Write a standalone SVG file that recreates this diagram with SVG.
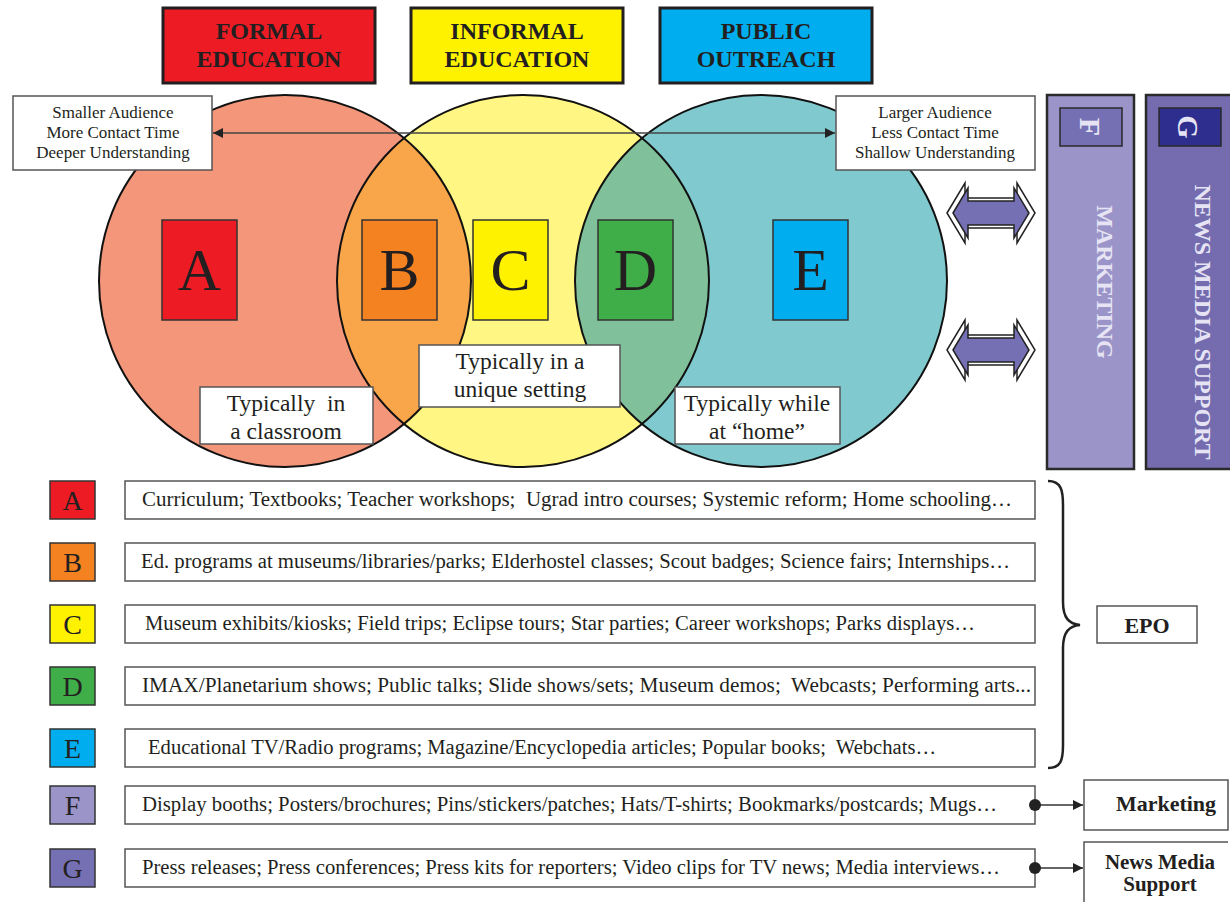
<svg xmlns="http://www.w3.org/2000/svg" width="1230" height="902" viewBox="0 0 1230 902">
<style>
.t{font-family:"Liberation Serif","Times New Roman",serif;fill:#231f20}
.b{font-weight:bold}
.hdr{stroke:#231f20;stroke-width:3}
.box{fill:#fff;stroke:#555;stroke-width:1.5}
.lb{stroke:#333;stroke-width:1.5}
.circ{fill:none;stroke:#111;stroke-width:2}
.row{font-size:20.5px}
.big{font-size:60px}
.sm{font-size:28px}
.lbl{font-size:23.5px}
.rot{font-family:"Liberation Serif","Times New Roman",serif;font-weight:bold;fill:#e6e4f4}
</style>
<defs>
<clipPath id="cl"><circle cx="285" cy="281" r="186"/></clipPath>
<clipPath id="cr"><circle cx="761" cy="281" r="186"/></clipPath>
<marker id="ah" viewBox="0 0 10 10" refX="10" refY="5" markerWidth="14" markerHeight="10" markerUnits="userSpaceOnUse" orient="auto-start-reverse"><path d="M0,0 L10,5 L0,10 Z" fill="#222"/></marker>
</defs>
<rect width="1230" height="902" fill="#fff"/>

<g id="header-formal"><rect class="hdr" x="163" y="8" width="212" height="75" fill="#ed1c24"/><text class="t b" x="269" y="39" font-size="24" text-anchor="middle">FORMAL</text><text class="t b" x="269" y="67" font-size="24" text-anchor="middle">EDUCATION</text></g>
<g id="header-informal"><rect class="hdr" x="411" y="8" width="212" height="75" fill="#fff200"/><text class="t b" x="517" y="39" font-size="24" text-anchor="middle">INFORMAL</text><text class="t b" x="517" y="67" font-size="24" text-anchor="middle">EDUCATION</text></g>
<g id="header-public"><rect class="hdr" x="660" y="8" width="212" height="75" fill="#00aeef"/><text class="t b" x="766" y="39" font-size="24" text-anchor="middle">PUBLIC</text><text class="t b" x="766" y="67" font-size="24" text-anchor="middle">OUTREACH</text></g>

<g id="venn">
<circle cx="285" cy="281" r="186" fill="#f4967a"/>
<circle cx="523" cy="281" r="186" fill="#fff683"/>
<circle cx="761" cy="281" r="186" fill="#80cacf"/>
<circle cx="523" cy="281" r="186" fill="#f9a64a" clip-path="url(#cl)"/>
<circle cx="523" cy="281" r="186" fill="#80c09a" clip-path="url(#cr)"/>
<circle class="circ" cx="285" cy="281" r="186"/>
<circle class="circ" cx="523" cy="281" r="186"/>
<circle class="circ" cx="761" cy="281" r="186"/>
</g>

<g id="note-left"><rect class="box" x="13" y="96" width="199" height="74"/><text class="t" font-size="17" text-anchor="middle"><tspan x="113" y="118">Smaller Audience</tspan><tspan x="113" y="138">More Contact Time</tspan><tspan x="113" y="158">Deeper Understanding</tspan></text></g>
<g id="note-right"><rect class="box" x="836" y="96" width="199" height="74"/><text class="t" font-size="17" text-anchor="middle"><tspan x="935" y="118">Larger Audience</tspan><tspan x="935" y="138">Less Contact Time</tspan><tspan x="935" y="158">Shallow Understanding</tspan></text></g>

<g id="node-A"><rect class="lb" x="162" y="220" width="75" height="100" fill="#ed1c24"/><text class="t big" x="199.5" y="290" text-anchor="middle">A</text></g>
<g id="node-B"><rect class="lb" x="362" y="220" width="75" height="100" fill="#f58220"/><text class="t big" x="399.5" y="290" text-anchor="middle">B</text></g>
<g id="node-C"><rect class="lb" x="473" y="220" width="75" height="100" fill="#fff200"/><text class="t big" x="510.5" y="290" text-anchor="middle">C</text></g>
<g id="node-D"><rect class="lb" x="598" y="220" width="75" height="100" fill="#3fae49"/><text class="t big" x="635.5" y="290" text-anchor="middle">D</text></g>
<g id="node-E"><rect class="lb" x="773" y="220" width="75" height="100" fill="#00aeef"/><text class="t big" x="810.5" y="290" text-anchor="middle">E</text></g>

<g id="setting-classroom"><rect class="box" x="200" y="387" width="173" height="57"/><text class="t lbl" text-anchor="middle"><tspan x="286" y="411" xml:space="preserve">Typically  in</tspan><tspan x="286" y="439">a classroom</tspan></text></g>
<g id="setting-unique"><rect class="box" x="419" y="345" width="201" height="62"/><text class="t lbl" text-anchor="middle"><tspan x="520" y="369">Typically in a</tspan><tspan x="520" y="397">unique setting</tspan></text></g>
<g id="setting-home"><rect class="box" x="675" y="387" width="165" height="57"/><text class="t lbl" text-anchor="middle"><tspan x="757" y="411">Typically while</tspan><tspan x="757" y="439">at “home”</tspan></text></g>

<g id="col-F"><rect x="1047" y="95" width="87" height="374" fill="#9b94c8" stroke="#2a2a2a" stroke-width="2.5"/><rect x="1060" y="108" width="62" height="38" fill="#7570b3" stroke="#2a2a2a" stroke-width="1.5"/><text class="rot" font-size="30" transform="translate(1080,127) rotate(90)" text-anchor="middle">F</text><text class="rot" font-size="24" transform="translate(1097,282) rotate(90)" text-anchor="middle">MARKETING</text></g>
<g id="col-G"><rect x="1146" y="95" width="90" height="374" fill="#746caf" stroke="#2a2a2a" stroke-width="2.5"/><rect x="1159" y="108" width="62" height="38" fill="#2e2e8e" stroke="#2a2a2a" stroke-width="1.5"/><text class="rot" font-size="30" transform="translate(1178,127) rotate(90)" text-anchor="middle">G</text><text class="rot" font-size="24" transform="translate(1195,322) rotate(90)" text-anchor="middle">NEWS MEDIA SUPPORT</text></g>

<g id="row-A"><rect class="lb" x="50" y="481" width="45" height="38" fill="#ed1c24"/><text class="t sm" x="72.5" y="510" text-anchor="middle">A</text><rect class="box" x="125" y="481" width="910" height="38"/><text class="t row" x="142" y="506" textLength="870" lengthAdjust="spacingAndGlyphs" xml:space="preserve">Curriculum; Textbooks; Teacher workshops;  Ugrad intro courses; Systemic reform; Home schooling…</text></g>
<g id="row-B"><rect class="lb" x="50" y="543" width="45" height="38" fill="#f58220"/><text class="t sm" x="72.5" y="572" text-anchor="middle">B</text><rect class="box" x="125" y="543" width="910" height="38"/><text class="t row" x="141" y="568" textLength="869" lengthAdjust="spacingAndGlyphs">Ed. programs at museums/libraries/parks; Elderhostel classes; Scout badges; Science fairs; Internships…</text></g>
<g id="row-C"><rect class="lb" x="50" y="605" width="45" height="38" fill="#fff200"/><text class="t sm" x="72.5" y="634" text-anchor="middle">C</text><rect class="box" x="125" y="605" width="910" height="38"/><text class="t row" x="145" y="630" textLength="830" lengthAdjust="spacingAndGlyphs">Museum exhibits/kiosks; Field trips; Eclipse tours; Star parties; Career workshops; Parks displays…</text></g>
<g id="row-D"><rect class="lb" x="50" y="667" width="45" height="38" fill="#3fae49"/><text class="t sm" x="72.5" y="696" text-anchor="middle">D</text><rect class="box" x="125" y="667" width="910" height="38"/><text class="t row" x="142" y="692" textLength="889" lengthAdjust="spacingAndGlyphs" xml:space="preserve">IMAX/Planetarium shows; Public talks; Slide shows/sets; Museum demos;  Webcasts; Performing arts...</text></g>
<g id="row-E"><rect class="lb" x="50" y="729" width="45" height="38" fill="#00aeef"/><text class="t sm" x="72.5" y="758" text-anchor="middle">E</text><rect class="box" x="125" y="729" width="910" height="38"/><text class="t row" x="148" y="754" textLength="788" lengthAdjust="spacingAndGlyphs" xml:space="preserve">Educational TV/Radio programs; Magazine/Encyclopedia articles; Popular books;  Webchats…</text></g>
<g id="row-F"><rect class="lb" x="50" y="786" width="45" height="38" fill="#9b94c8"/><text class="t sm" x="72.5" y="815" text-anchor="middle">F</text><rect class="box" x="125" y="786" width="910" height="38"/><text class="t row" x="142" y="811" textLength="855" lengthAdjust="spacingAndGlyphs">Display booths; Posters/brochures; Pins/stickers/patches; Hats/T-shirts; Bookmarks/postcards; Mugs…</text></g>
<g id="row-G"><rect class="lb" x="50" y="849" width="45" height="38" fill="#7570b3"/><text class="t sm" x="72.5" y="878" text-anchor="middle">G</text><rect class="box" x="125" y="849" width="910" height="38"/><text class="t row" x="142" y="874" textLength="858" lengthAdjust="spacingAndGlyphs">Press releases; Press conferences; Press kits for reporters; Video clips for TV news; Media interviews…</text></g>

<g id="epo"><rect class="box" x="1097" y="606" width="100" height="37"/><text class="t b" x="1147" y="633" font-size="22" text-anchor="middle">EPO</text></g>
<g id="marketing"><rect class="box" x="1084" y="780" width="144" height="50"/><text class="t b" x="1166" y="811" font-size="22" text-anchor="middle">Marketing</text></g>
<g id="news-media"><path d="M1084,910 L1084,842 L1228,842" fill="#fff" stroke="#555" stroke-width="1.5"/><text class="t b" font-size="21" text-anchor="middle"><tspan x="1160" y="869">News Media</tspan><tspan x="1160" y="891">Support</tspan></text></g>

<g id="connectors">
<line x1="213" y1="133" x2="835" y2="133" stroke="#444" stroke-width="1.5" marker-start="url(#ah)" marker-end="url(#ah)"/>
<g id="dbl1">
<polygon points="947,213 965,183 965,198 1017,198 1017,183 1035,213 1017,243 1017,228 965,228 965,243" fill="#fff" stroke="#222" stroke-width="1.5"/>
<polygon points="953,213 968,188 968,201 1014,201 1014,188 1029,213 1014,238 1014,225 968,225 968,238" fill="#7570b3" stroke="#222" stroke-width="1.5"/>
</g>
<g id="dbl2" transform="translate(0,137)">
<polygon points="947,213 965,183 965,198 1017,198 1017,183 1035,213 1017,243 1017,228 965,228 965,243" fill="#fff" stroke="#222" stroke-width="1.5"/>
<polygon points="953,213 968,188 968,201 1014,201 1014,188 1029,213 1014,238 1014,225 968,225 968,238" fill="#7570b3" stroke="#222" stroke-width="1.5"/>
</g>
<path d="M1048,481 C1061,481 1063,490 1063,505 L1063,602 C1063,618 1069,624 1080,625 C1069,626 1063,632 1063,648 L1063,745 C1063,760 1061,768 1048,768" fill="none" stroke="#222" stroke-width="2.5"/>
<line x1="1035" y1="805" x2="1083" y2="805" stroke="#333" stroke-width="1.5" marker-end="url(#ah)"/>
<circle cx="1035" cy="805" r="6" fill="#222"/>
<line x1="1035" y1="868" x2="1083" y2="868" stroke="#333" stroke-width="1.5" marker-end="url(#ah)"/>
<circle cx="1035" cy="868" r="6" fill="#222"/>
</g>
</svg>
